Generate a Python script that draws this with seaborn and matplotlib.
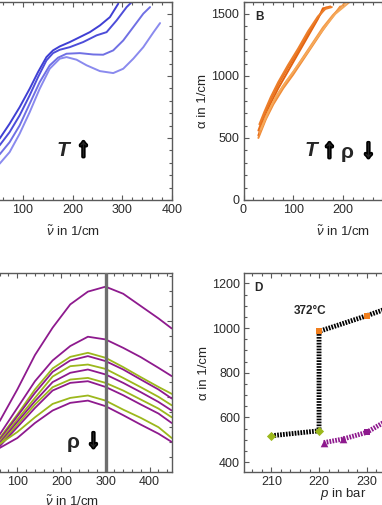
import matplotlib
matplotlib.use("Agg")
import matplotlib.pyplot as plt
from matplotlib import patheffects as pe
from matplotlib.ticker import MultipleLocator
import seaborn as sns

sns.set_style("ticks")
plt.rcParams["font.family"] = ["Liberation Sans", "DejaVu Sans"]
plt.rcParams["mathtext.fontset"] = "custom"
plt.rcParams["mathtext.rm"] = "Liberation Sans"
plt.rcParams["mathtext.it"] = "Liberation Sans:italic"
plt.rcParams["mathtext.bf"] = "Liberation Sans:bold"

# ---- panel A: four blue spectra (T up) ----
a_x1 = [52.6, 72.9, 93.1, 113.4, 130.2, 147.2, 160.5, 174.1, 194.3, 214.6, 234.8, 255.1, 275.3, 292.1]
a_y1 = [494, 615, 748, 897, 1031, 1152, 1206, 1238, 1273, 1313, 1353, 1407, 1474, 1582]
a_x2 = [52.6, 72.9, 93.1, 113.4, 130.2, 147.2, 160.5, 174.1, 194.3, 221.3, 248.4, 268.6, 288.9, 309.1, 319.2]
a_y2 = [440, 547, 682, 844, 990, 1125, 1184, 1211, 1232, 1273, 1327, 1353, 1448, 1555, 1595]
a_x3 = [52.6, 72.9, 93.1, 113.4, 133.6, 153.8, 170.6, 187.7, 214.6, 241.5, 261.7, 282.0, 302.2, 322.5, 342.7, 356.3]
a_y3 = [367, 466, 601, 776, 950, 1085, 1147, 1179, 1184, 1173, 1171, 1206, 1286, 1394, 1502, 1555]
a_x4 = [52.6, 72.9, 93.1, 113.4, 133.6, 153.8, 174.1, 187.7, 207.9, 228.1, 255.1, 282.0, 302.2, 322.5, 342.7, 363.4, 376.5]
a_y4 = [292, 386, 534, 708, 897, 1058, 1139, 1152, 1131, 1086, 1039, 1023, 1058, 1139, 1232, 1353, 1426]
a_colors = ["#3f3fd4", "#4d4dd9", "#7070e4", "#8a8aee"]

# ---- panel B: orange spectra (T up, rho down) ----
b_x1 = [30, 40, 55, 70, 90, 110, 130, 150, 160, 168]
b_y1 = [520, 640, 780, 900, 1040, 1180, 1320, 1460, 1545, 1550]
b_x2 = [30, 40, 55, 70, 90, 110, 130, 150, 165, 175]
b_y2 = [560, 670, 810, 930, 1070, 1200, 1340, 1470, 1550, 1560]
b_x3 = [32, 42, 55, 70, 90, 110, 130, 150, 165, 178]
b_y3 = [610, 710, 830, 950, 1090, 1220, 1360, 1480, 1540, 1555]
b_x4 = [30, 45, 60, 80, 100, 120, 140, 160, 180, 195]
b_y4 = [500, 650, 770, 900, 1010, 1130, 1250, 1370, 1480, 1560]
b_x5 = [32, 45, 60, 80, 100, 120, 140, 160, 180, 205]
b_y5 = [540, 670, 790, 920, 1030, 1150, 1270, 1390, 1490, 1590]
b_x6 = [35, 50, 65, 85, 105, 125, 145, 165, 185, 215]
b_y6 = [570, 710, 830, 950, 1060, 1170, 1290, 1400, 1500, 1600]
b_colors = ["#e2620f", "#e8701c", "#ec7e2a", "#f08c38", "#f39a48", "#f6a95a"]

# ---- panel C: purple / green spectra (rho down) ----
c_wn = [60, 100, 140, 180, 220, 260, 300, 340, 380, 420, 450]
c_p1 = [336, 547, 776, 958, 1113, 1198, 1231, 1184, 1102, 1020, 953]
c_p2 = [247, 424, 602, 740, 836, 898, 880, 824, 762, 691, 636]
c_g1 = [224, 380, 547, 687, 764, 791, 758, 696, 629, 564, 518]
c_p3 = [213, 369, 524, 664, 740, 769, 736, 680, 613, 547, 487]
c_g2 = [202, 347, 491, 633, 702, 713, 684, 624, 562, 498, 442]
c_p4 = [191, 331, 469, 596, 658, 680, 647, 591, 529, 464, 407]
c_g3 = [180, 313, 447, 562, 613, 624, 591, 540, 480, 420, 362]
c_p5 = [169, 296, 424, 540, 591, 602, 564, 509, 447, 387, 324]
c_g4 = [184, 264, 362, 451, 491, 507, 473, 413, 358, 296, 224]
c_p6 = [158, 224, 324, 407, 458, 473, 436, 376, 313, 253, 198]
c_marker_wn = 300

# ---- panel D: alpha at 300 1/cm vs pressure ----
d_path_p = [210, 220, 220, 230, 240]
d_path_a = [518, 540, 985, 1055, 1130]
d_green_p = [210, 220]
d_green_a = [518, 540]
d_orange_p = [220, 230, 240]
d_orange_a = [985, 1055, 1130]
d_purple_p = [221, 225, 230, 235]
d_purple_a = [487, 503, 533, 595]

PURPLE = "#8e1a8e"
GREEN = "#9cb81c"
ORANGE = "#f07f1e"
SPINE = "#5a5a5a"

W, H = 382, 505
fig = plt.figure(figsize=(W / 100, H / 100), dpi=100)


def rect(l, t, r, b):
    return [l / W, 1 - b / H, (r - l) / W, (b - t) / H]


def style(ax, left_labels=True):
    for s in ax.spines.values():
        s.set_color(SPINE)
        s.set_linewidth(1.0)
    ax.tick_params(which="both", direction="in", top=True, right=True,
                   color=SPINE, width=0.8, labelsize=9, pad=3,
                   labelcolor="#2a2a2a", labelleft=left_labels)
    ax.tick_params(which="major", length=3.5)
    ax.tick_params(which="minor", length=2)


nu_label = r"$\tilde{\nu}$ in 1/cm"

# A
axA = fig.add_axes(rect(-26.5, 1.5, 171.7, 200))
for xs, ys, c in zip([a_x1, a_x2, a_x3, a_x4], [a_y1, a_y2, a_y3, a_y4], a_colors):
    sns.lineplot(x=xs, y=ys, ax=axA, color=c, lw=1.4, sort=False, estimator=None)
axA.set_xlim(0, 400)
axA.set_ylim(0, 1600)
axA.xaxis.set_major_locator(MultipleLocator(100))
axA.xaxis.set_minor_locator(MultipleLocator(20))
axA.yaxis.set_major_locator(MultipleLocator(500))
axA.yaxis.set_minor_locator(MultipleLocator(100))
axA.set_xlabel(nu_label, fontsize=9.5, labelpad=6)
style(axA, left_labels=False)

# B
axB = fig.add_axes(rect(243.5, 1.5, 442, 200))
for xs, ys, c in zip([b_x1, b_x2, b_x3, b_x4, b_x5, b_x6],
                     [b_y1, b_y2, b_y3, b_y4, b_y5, b_y6], b_colors):
    sns.lineplot(x=xs, y=ys, ax=axB, color=c, lw=1.4, sort=False, estimator=None)
axB.set_xlim(0, 400)
axB.set_ylim(0, 1600)
axB.xaxis.set_major_locator(MultipleLocator(100))
axB.xaxis.set_minor_locator(MultipleLocator(20))
axB.yaxis.set_major_locator(MultipleLocator(500))
axB.yaxis.set_minor_locator(MultipleLocator(100))
axB.set_xlabel(nu_label, fontsize=9.5, labelpad=6)
axB.set_ylabel("α in 1/cm", fontsize=9.5, labelpad=1.5)
style(axB)

# C
axC = fig.add_axes(rect(-26.8, 273.3, 171.7, 471.7))
c_series = [(c_p1, PURPLE), (c_p2, PURPLE), (c_g1, GREEN), (c_p3, PURPLE),
            (c_g2, GREEN), (c_p4, PURPLE), (c_g3, GREEN), (c_p5, PURPLE),
            (c_g4, GREEN), (c_p6, PURPLE)]
for ys, c in c_series:
    sns.lineplot(x=c_wn, y=ys, ax=axC, color=c, lw=1.3, sort=False, estimator=None)
axC.axvline(c_marker_wn, color="#6e6e6e", lw=2.4, zorder=5)
axC.set_xlim(0, 450)
axC.set_ylim(0, 1320)
axC.xaxis.set_major_locator(MultipleLocator(100))
axC.xaxis.set_minor_locator(MultipleLocator(20))
axC.yaxis.set_major_locator(MultipleLocator(500))
axC.yaxis.set_minor_locator(MultipleLocator(100))
axC.set_xlabel(nu_label, fontsize=9.5, labelpad=5)
style(axC, left_labels=False)

# D
axD = fig.add_axes(rect(244.3, 273.3, 442.8, 471.7))
dash = (0, (0.35, 0.25))
sns.lineplot(x=d_path_p, y=d_path_a, ax=axD, color="black", lw=3.5,
             linestyle=dash, sort=False, estimator=None)
sns.lineplot(x=d_purple_p, y=d_purple_a, ax=axD, color=PURPLE, lw=3.5,
             linestyle=dash, sort=False, estimator=None)
sns.scatterplot(x=d_green_p, y=d_green_a, ax=axD, color=GREEN, marker="D",
                s=22, linewidth=0, zorder=4)
sns.scatterplot(x=d_orange_p, y=d_orange_a, ax=axD, color=ORANGE, marker="s",
                s=24, linewidth=0, zorder=4)
sns.scatterplot(x=d_purple_p[:2], y=d_purple_a[:2], ax=axD, color=PURPLE,
                marker="^", s=30, linewidth=0, zorder=4)
sns.scatterplot(x=d_purple_p[2:], y=d_purple_a[2:], ax=axD, color=PURPLE,
                marker="s", s=24, linewidth=0, zorder=4)
axD.set_xlim(204.3, 246)
axD.set_ylim(357, 1245)
axD.xaxis.set_major_locator(MultipleLocator(10))
axD.xaxis.set_minor_locator(MultipleLocator(2))
axD.yaxis.set_major_locator(MultipleLocator(200))
axD.yaxis.set_minor_locator(MultipleLocator(50))
axD.set_xlabel(r"$p$ in bar", fontsize=9.5, labelpad=-1)
axD.set_ylabel("α in 1/cm", fontsize=9.5, labelpad=1.5)
style(axD)


def ftext(px, py, s, **kw):
    fig.text(px / W, 1 - py / H, s, **kw)


ftext(259, 17, "B", fontsize=8.5, fontweight="bold", ha="center", va="center")
ftext(258.5, 288, "D", fontsize=8.5, fontweight="bold", ha="center", va="center")
ftext(310.5, 311, "372°C", fontsize=8.5, fontweight="bold", ha="center", va="center")

big = dict(fontsize=15, fontweight="bold", va="center", ha="left")
arrow = dict(fontsize=18.5, fontweight="bold", va="center", ha="left",
             path_effects=[pe.withStroke(linewidth=2.4, foreground="black")])
ftext(57, 150, "T", fontstyle="italic", **big)
ftext(77, 149, "↑", **arrow)
ftext(305, 151, "T", fontstyle="italic", **big)
ftext(323, 150, "↑", **arrow)
ftext(341, 153, "ρ", **big)
ftext(362, 150, "↓", **arrow)
ftext(67, 443, "ρ", **big)
ftext(87, 440, "↓", **arrow)

fig.savefig("out.png", dpi=100)
